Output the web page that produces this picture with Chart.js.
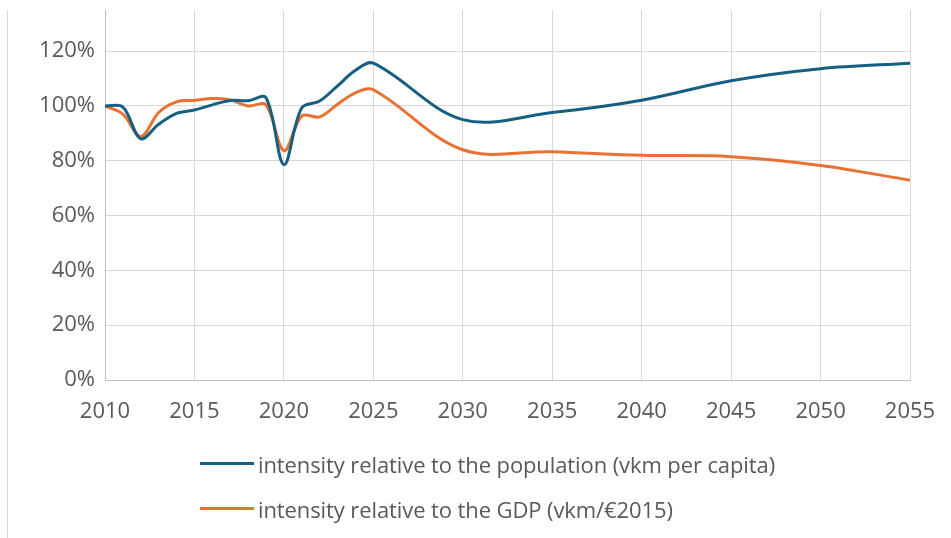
<!DOCTYPE html>
<html>
<head>
<meta charset="utf-8">
<script src="https://cdn.jsdelivr.net/npm/chart.js@4/dist/chart.umd.min.js"></script>
<style>
  html, body { margin: 0; padding: 0; background: #fff; }
  #wrap { position: relative; width: 951px; height: 538px; overflow: hidden; }
  #frame { position: absolute; left: 7px; top: 10px; width: 0; height: 528px; border-left: 1px solid #d9d9d9; }
  #legend { position: absolute; left: 200px; top: 441px; font-family: "Open Sans", Arial, sans-serif; font-size: 22px; color: #595959; letter-spacing: -0.1px; }
  .item { display: flex; align-items: center; height: 45px; }
  .swatch { width: 54px; height: 3px; margin-right: 4px; }
</style>
</head>
<body>
<div id="wrap">
  <canvas id="c" width="951" height="538"></canvas>
  <div id="frame"></div>
  <div id="legend"></div>
</div>
<script>
const years = [2010,2011,2012,2013,2014,2015,2016,2017,2018,2019,2020,2021,2022,2023,2024,2025,2030,2035,2040,2045,2050,2055];
const perCapita = [100,99.6,88,93.3,97.3,98.5,100.4,102,101.9,103,78.6,99.3,101.8,107.3,113,115.6,95,97.6,102.1,109.2,113.6,115.6];
const perGDP = [100,97,88.8,97.6,101.5,102,102.7,102.2,100,100.4,83.7,96.3,96,100.6,104.8,105.9,84,83.3,82,81.5,78.3,72.9];
const seriesNames = ["intensity relative to the population (vkm per capita)", "intensity relative to the GDP (vkm/€2015)"];
const seriesColors = ["#156082", "#E97132"];
const xTicks = [2010,2015,2020,2025,2030,2035,2040,2045,2050,2055];
const yTicks = [0,20,40,60,80,100,120];

const toPts = arr => years.map((y, i) => ({x: y, y: arr[i]}));
const FONT = {family: '"Open Sans", Arial, sans-serif', size: 22};

const chart = new Chart(document.getElementById('c'), {
  type: 'line',
  data: {
    datasets: [
      {label: seriesNames[0], data: toPts(perCapita), borderColor: seriesColors[0], backgroundColor: seriesColors[0], borderWidth: 3, pointRadius: 0, tension: 0.35},
      {label: seriesNames[1], data: toPts(perGDP), borderColor: seriesColors[1], backgroundColor: seriesColors[1], borderWidth: 3, pointRadius: 0, tension: 0.35}
    ]
  },
  options: {
    responsive: false,
    animation: false,
    layout: {padding: {left: 0, right: 41, top: 10, bottom: 0}},
    plugins: {legend: {display: false}, tooltip: {enabled: false}},
    scales: {
      x: {
        type: 'linear', min: 2010, max: 2055,
        afterBuildTicks: s => { s.ticks = xTicks.map(v => ({value: v})); },
        afterFit: s => { s.height = 158; s.paddingLeft = 0; s.paddingRight = 0; },
        ticks: {color: '#595959', font: FONT, padding: 19, maxRotation: 0, callback: v => String(v)},
        grid: {color: '#d9d9d9', lineWidth: 1, drawTicks: false},
        border: {color: '#bfbfbf', width: 1}
      },
      y: {
        min: 0, max: 135,
        afterBuildTicks: s => { s.ticks = yTicks.map(v => ({value: v})); },
        afterFit: s => { s.width = 105; s.paddingTop = 0; s.paddingBottom = 0; },
        ticks: {color: '#595959', font: FONT, padding: 10, callback: v => v + '%'},
        grid: {color: '#d9d9d9', lineWidth: 1, drawTicks: false},
        border: {color: '#bfbfbf', width: 1}
      }
    }
  }
});

const leg = document.getElementById('legend');
chart.data.datasets.forEach(ds => {
  const it = document.createElement('div'); it.className = 'item';
  const sw = document.createElement('div'); sw.className = 'swatch'; sw.style.background = ds.borderColor;
  const tx = document.createElement('span'); tx.textContent = ds.label;
  it.appendChild(sw); it.appendChild(tx); leg.appendChild(it);
});
</script>
</body>
</html>
